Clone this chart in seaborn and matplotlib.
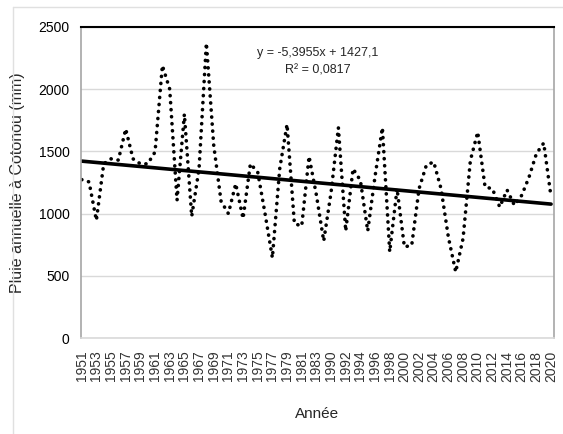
import numpy as np
import pandas as pd
import matplotlib
matplotlib.use("Agg")
import matplotlib.pyplot as plt
import seaborn as sns

years = list(range(1951, 1985)) + list(range(1990, 2021))
rain = [1273, 1255, 946, 1400, 1440, 1430, 1680, 1440, 1400, 1400,
        1495, 2190, 2000, 1107, 1800, 978, 1360, 2370, 1550, 1100,
        1000, 1240, 960, 1400, 1334, 1000, 645, 1360, 1717, 920,
        900, 1460, 1150, 780, 1170, 1690, 860, 1360, 1267, 860,
        1300, 1690, 693, 1200, 733, 745, 1200, 1390, 1415, 1200,
        810, 531, 800, 1428, 1655, 1214, 1200, 1053, 1190, 1067,
        1147, 1294, 1482, 1567, 1133]
slope = -5.3955
intercept = 1427.1
r2 = 0.0817

df = pd.DataFrame({"pos": np.arange(len(years)), "rain": rain})
df["trend"] = slope * (df["pos"] + 1) + intercept

sns.set_theme(style="white")
plt.rcParams['font.family'] = ['Liberation Sans', 'DejaVu Sans']

fig = plt.figure(figsize=(5.63, 4.34), dpi=100)
ax = fig.add_axes([0.1433, 0.221, 0.8407, 0.717])

sns.lineplot(data=df, x="pos", y="rain", ax=ax, color="black",
             linewidth=2.6, linestyle=(0, (0.05, 1.9)), dash_capstyle="round")
sns.lineplot(data=df, x="pos", y="trend", ax=ax, color="black", linewidth=2.6)

ax.set_ylim(0, 2500)
ax.set_xlim(-0.14, 64.4)
ax.set_yticks(range(0, 2501, 500))
ax.yaxis.grid(True, color="#d9d9d9", linewidth=1)
ax.set_xticks(df["pos"][::2])
ax.set_xticklabels([str(y) for y in years[::2]], rotation=90, fontsize=10, color="#333333")
ax.tick_params(axis="y", labelsize=10, colors="black", pad=8, length=0)
ax.tick_params(axis="x", pad=9, length=0)

for side in ["left", "right", "bottom"]:
    ax.spines[side].set_color("#a6a6a6")
    ax.spines[side].set_linewidth(1.2)
ax.spines["bottom"].set_color("#d9d9d9")
ax.spines["top"].set_color("black")
ax.spines["top"].set_linewidth(1.5)

ax.set_xlabel("Année", fontsize=11, labelpad=18)
ax.set_ylabel("Pluie annuelle à Cotonou (mm)", fontsize=11.5, labelpad=10)

ax.text(0.5, 0.915, f"y = {slope:.4f}x + {intercept:.1f}".replace(".", ","),
        transform=ax.transAxes, ha="center", va="center", fontsize=9)
ax.text(0.5, 0.86, f"R² = {r2:.4f}".replace(".", ","),
        transform=ax.transAxes, ha="center", va="center", fontsize=9)

# faint outer frame of the original chart area
fig.add_artist(plt.Line2D([13 / 563, 1], [1 - 7 / 434, 1 - 7 / 434], color="#e0e0e0", linewidth=1))
fig.add_artist(plt.Line2D([13 / 563, 13 / 563], [0, 1 - 7 / 434], color="#e0e0e0", linewidth=1))

fig.savefig("out.png", dpi=100, facecolor="white")
